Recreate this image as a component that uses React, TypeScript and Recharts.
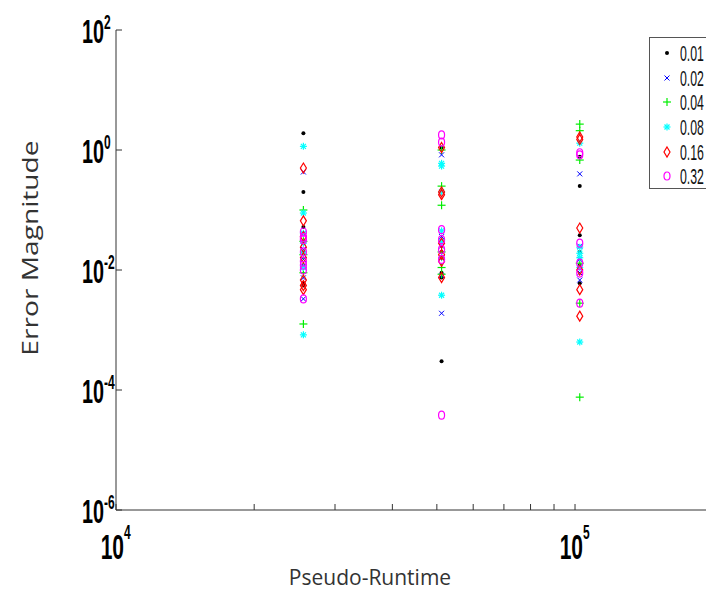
import React from 'react';
import { ScatterChart, Scatter, XAxis, YAxis, Legend } from 'recharts';

// pseudo-runtime columns (x positions of the three groups)
const RUNTIMES = [25600, 51200, 102400];

const SERIES_NAMES = ['0.01', '0.02', '0.04', '0.08', '0.16', '0.32'];
const SERIES_COLORS = ['#000000', '#0000ff', '#00ee00', '#00ffff', '#ff0000', '#ff00ff'];
const SERIES_MARKERS = ['dot', 'cross', 'plus', 'star', 'diamond', 'circle'];

// error magnitudes, one list per runtime column
const ERR_001 = [
  [1.9, 0.2, 0.052, 0.03, 0.02, 0.012, 0.006, 0.0055],
  [1.1, 0.02, 0.016, 0.009, 0.0075, 0.0003],
  [0.77, 0.25, 0.038, 0.02, 0.012, 0.006],
];
const ERR_002 = [
  [0.43, 0.04, 0.022, 0.0074, 0.0033, 0.015],
  [0.83, 0.036, 0.025, 0.008, 0.0019],
  [0.4, 0.025, 0.015, 0.009, 0.0068],
];
const ERR_004 = [
  [0.1, 0.03, 0.018, 0.009, 0.00126],
  [1.0, 0.25, 0.12, 0.02, 0.011, 0.0085],
  [2.7, 2.1, 0.68, 0.013, 0.0028, 0.000076],
];
const ERR_008 = [
  [1.15, 0.089, 0.041, 0.028, 0.019, 0.011, 0.00083],
  [0.6, 0.54, 0.2, 0.045, 0.03, 0.016, 0.0038],
  [1.3, 0.024, 0.019, 0.016, 0.011, 0.00063],
];
const ERR_016 = [
  [0.5, 0.066, 0.036, 0.024, 0.016, 0.0068, 0.0055, 0.0047],
  [1.1, 0.2, 0.18, 0.028, 0.018, 0.014, 0.0075],
  [1.65, 1.5, 0.05, 0.01, 0.0047, 0.0017],
];
const ERR_032 = [
  [0.043, 0.035, 0.032, 0.02, 0.014, 0.012, 0.01, 0.0033],
  [1.78, 1.35, 0.047, 0.032, 0.022, 0.015, 0.000038],
  [0.9, 0.83, 0.028, 0.013, 0.0089, 0.0028],
];
const SERIES_ERRORS = [ERR_001, ERR_002, ERR_004, ERR_008, ERR_016, ERR_032];

const X_TICKS = [1e4, 2e4, 3e4, 4e4, 5e4, 6e4, 7e4, 8e4, 9e4, 1e5];
const Y_TICKS = [1e-6, 1e-4, 1e-2, 1, 100];
const X_DOMAIN = [1e4, 192900];
const Y_DOMAIN = [1e-6, 100];

const toPoints = (cols: number[][]) =>
  cols.flatMap((vals, i) => vals.map((v) => ({ x: RUNTIMES[i], y: v })));

const Marker = ({ kind, color, cx, cy }: { kind: string; color: string; cx: number; cy: number }) => {
  switch (kind) {
    case 'dot':
      return <circle cx={cx} cy={cy} r={2} fill={color} />;
    case 'cross':
      return (
        <g stroke={color} strokeWidth={1}>
          <line x1={cx - 2.5} y1={cy - 2.5} x2={cx + 2.5} y2={cy + 2.5} />
          <line x1={cx - 2.5} y1={cy + 2.5} x2={cx + 2.5} y2={cy - 2.5} />
        </g>
      );
    case 'plus':
      return (
        <g stroke={color} strokeWidth={1.2}>
          <line x1={cx - 4} y1={cy} x2={cx + 4} y2={cy} />
          <line x1={cx} y1={cy - 4} x2={cx} y2={cy + 4} />
        </g>
      );
    case 'star':
      return (
        <g stroke={color} strokeWidth={1.2}>
          <line x1={cx - 3.5} y1={cy} x2={cx + 3.5} y2={cy} />
          <line x1={cx} y1={cy - 3.5} x2={cx} y2={cy + 3.5} />
          <line x1={cx - 2.5} y1={cy - 2.5} x2={cx + 2.5} y2={cy + 2.5} />
          <line x1={cx - 2.5} y1={cy + 2.5} x2={cx + 2.5} y2={cy - 2.5} />
        </g>
      );
    case 'diamond':
      return (
        <polygon
          points={`${cx},${cy - 5} ${cx + 3},${cy} ${cx},${cy + 5} ${cx - 3},${cy}`}
          fill="none"
          stroke={color}
          strokeWidth={1.2}
        />
      );
    default:
      return <ellipse cx={cx} cy={cy} rx={3} ry={4} fill="none" stroke={color} strokeWidth={1.2} />;
  }
};

const powerLabel = (v: number) => Math.round(Math.log10(v)).toString();

const LABEL_FONT = '"Liberation Sans", Arial, sans-serif';

const YTick = (props: any) => {
  const { x, y, payload } = props;
  const exp = powerLabel(payload.value);
  return (
    <g>
      <line x1={x} y1={y} x2={x + 6} y2={y} stroke="#333" />
      <text
        transform={`translate(${x - 12},${y + 13}) scale(0.6,1)`}
        textAnchor="end"
        fontFamily={LABEL_FONT}
        fontWeight="bold"
        fontSize={33}
        fill="#000"
      >
        10
      </text>
      <text
        transform={`translate(${x - 12},${y - 1}) scale(0.6,1)`}
        textAnchor="start"
        fontFamily={LABEL_FONT}
        fontWeight="bold"
        fontSize={20}
        fill="#000"
      >
        {exp}
      </text>
    </g>
  );
};

const XTick = (props: any) => {
  const { x, y, payload } = props;
  const v = payload.value;
  const isDecade = Math.abs(Math.log10(v) - Math.round(Math.log10(v))) < 1e-6;
  return (
    <g>
      <line x1={x} y1={y} x2={x} y2={y - 6} stroke="#333" />
      {isDecade && (
        <>
          <text
            transform={`translate(${x + 8},${y + 49}) scale(0.6,1)`}
            textAnchor="end"
            fontFamily={LABEL_FONT}
            fontWeight="bold"
            fontSize={35}
            fill="#000"
          >
            10
          </text>
          <text
            transform={`translate(${x + 8},${y + 29}) scale(0.6,1)`}
            textAnchor="start"
            fontFamily={LABEL_FONT}
            fontWeight="bold"
            fontSize={20}
            fill="#000"
          >
            {powerLabel(v)}
          </text>
        </>
      )}
    </g>
  );
};

const renderLegend = () => (
  <div
    style={{
      border: '1px solid #555',
      background: '#fff',
      width: 57,
      height: 152,
      paddingTop: 3,
      boxSizing: 'border-box',
      borderRight: 'none',
    }}
  >
    {SERIES_NAMES.map((name, i) => (
      <div key={name} style={{ height: 24.6, display: 'flex', alignItems: 'center' }}>
        <svg width={30} height={14} style={{ display: 'block', flex: 'none' }}>
          <Marker kind={SERIES_MARKERS[i]} color={SERIES_COLORS[i]} cx={17} cy={7} />
        </svg>
        <svg width={26} height={22} style={{ display: 'block', flex: 'none' }}>
          <text
            transform="translate(0,19) scale(1,1.75)"
            fontFamily='"Liberation Sans", Arial, sans-serif'
            fontSize={12.3}
            fill="#111"
          >
            {name}
          </text>
        </svg>
      </div>
    ))}
  </div>
);

export default function App() {
  return (
    <div style={{ position: 'absolute', left: 0, top: 0, width: 706, height: 605, overflow: 'hidden', background: '#fff' }}>
      <ScatterChart width={706} height={605} margin={{ top: 30, right: 0, bottom: 0, left: 0 }}>
        <XAxis
          dataKey="x"
          type="number"
          scale="log"
          domain={X_DOMAIN}
          allowDataOverflow
          ticks={X_TICKS}
          interval={0}
          height={95}
          tickSize={0}
          tickMargin={0}
          tickLine={false}
          axisLine={{ stroke: '#333' }}
          tick={<XTick />}
          label={{
            content: () => (
              <text x={370} y={585} textAnchor="middle" fontFamily='"Open Sans", sans-serif' fontSize={21} fill="#333">
                Pseudo-Runtime
              </text>
            ),
          }}
        />
        <XAxis
          xAxisId="top"
          orientation="top"
          type="number"
          scale="log"
          domain={X_DOMAIN}
          allowDataOverflow
          height={0}
          ticks={[]}
          tick={false}
          tickLine={false}
          axisLine={{ stroke: '#333' }}
        />
        <YAxis
          dataKey="y"
          type="number"
          scale="log"
          domain={Y_DOMAIN}
          allowDataOverflow
          ticks={Y_TICKS}
          interval={0}
          width={116}
          tickSize={0}
          tickMargin={0}
          tickLine={false}
          axisLine={{ stroke: '#333' }}
          tick={<YTick />}
          label={{
            content: () => (
              <text
                x={0}
                y={0}
                transform="translate(38,248) rotate(-90) scale(1.28,1)"
                textAnchor="middle"
                fontFamily='"Open Sans", sans-serif'
                fontSize={22}
                fill="#333"
              >
                Error Magnitude
              </text>
            ),
          }}
        />
        <Legend
          layout="vertical"
          align="center"
          verticalAlign="middle"
          content={renderLegend}
          wrapperStyle={{ position: 'absolute', left: 649, top: 37, width: 57, height: 152 }}
        />
        {SERIES_NAMES.map((name, i) => (
          <Scatter
            key={name}
            name={name}
            data={toPoints(SERIES_ERRORS[i])}
            isAnimationActive={false}
            shape={(p: any) => <Marker kind={SERIES_MARKERS[i]} color={SERIES_COLORS[i]} cx={p.cx} cy={p.cy} />}
          />
        ))}
      </ScatterChart>
    </div>
  );
}
